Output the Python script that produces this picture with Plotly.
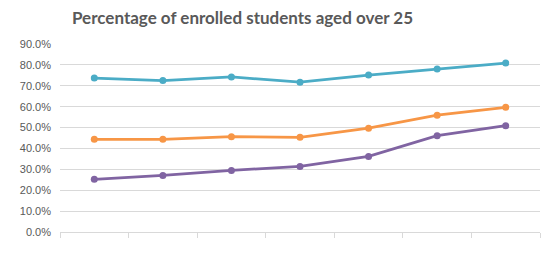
import plotly.graph_objects as go

categories = ["1", "2", "3", "4", "5", "6", "7"]
series_blue = [0.737, 0.725, 0.742, 0.717, 0.751, 0.780, 0.809]
series_orange = [0.444, 0.444, 0.456, 0.453, 0.497, 0.559, 0.597]
series_purple = [0.252, 0.271, 0.295, 0.314, 0.362, 0.461, 0.509]
y_ticks = [0.0, 0.1, 0.2, 0.3, 0.4, 0.5, 0.6, 0.7, 0.8, 0.9]

fig = go.Figure()
for vals, col in [(series_blue, "#4BACC6"), (series_orange, "#F79646"), (series_purple, "#8064A2")]:
    fig.add_trace(go.Scatter(x=categories, y=vals, mode="lines+markers",
                             line=dict(color=col, width=2.75),
                             marker=dict(color=col, size=7),
                             showlegend=False))

fig.update_layout(
    width=549, height=264,
    margin=dict(l=50, r=17, t=36, b=40),
    paper_bgcolor="white", plot_bgcolor="white",
    title=dict(text="Percentage of enrolled students aged over 25",
               font=dict(family="Lato", size=17, color="#595959", weight="bold"),
               xref="container", x=64/549, xanchor="left",
               yref="container", y=1 - 4/264, yanchor="top", pad=dict(t=0)),
    xaxis=dict(type="category", range=[-0.5, 6.5], showticklabels=False,
               showgrid=False, showline=True, linecolor="#d9d9d9", linewidth=1,
               ticks="outside", tickson="boundaries", ticklen=5, tickcolor="#d9d9d9"),
    yaxis=dict(range=[0, 0.9], tickvals=y_ticks, tickformat=".1%",
               showgrid=True, gridcolor="#d9d9d9", gridwidth=1, zeroline=False,
               tickfont=dict(family="Liberation Sans", size=11, color="#595959"),
               ticks="", ticklabelstandoff=8),
    font=dict(family="Liberation Sans", color="#595959"),
)

fig.write_html("out.html")
